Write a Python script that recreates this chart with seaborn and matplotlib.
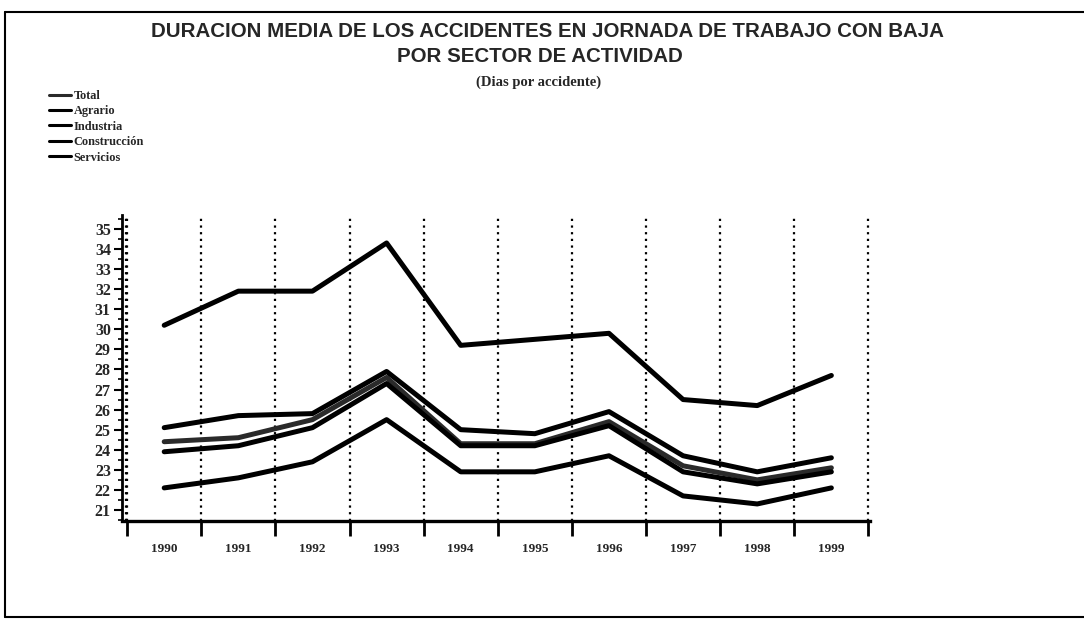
import pandas as pd
import matplotlib.pyplot as plt
import seaborn as sns
from matplotlib.lines import Line2D

years = ['1990', '1991', '1992', '1993', '1994', '1995', '1996', '1997', '1998', '1999']
sectors = ['Total', 'Agrario', 'Industria', 'Construcción', 'Servicios']

total = [24.4, 24.6, 25.5, 27.6, 24.3, 24.3, 25.4, 23.2, 22.5, 23.1]
agrario = [30.2, 31.9, 31.9, 34.3, 29.2, 29.5, 29.8, 26.5, 26.2, 27.7]
industria = [23.9, 24.2, 25.1, 27.3, 24.2, 24.2, 25.2, 22.9, 22.3, 22.9]
construccion = [25.1, 25.7, 25.8, 27.9, 25.0, 24.8, 25.9, 23.7, 22.9, 23.6]
servicios = [22.1, 22.6, 23.4, 25.5, 22.9, 22.9, 23.7, 21.7, 21.3, 22.1]

y_ticks = list(range(21, 36))

if __name__ == '__main__':
    df = pd.DataFrame({'Total': total, 'Agrario': agrario, 'Industria': industria,
                       'Construcción': construccion, 'Servicios': servicios})
    df['pos'] = range(len(years))
    df = df.melt(id_vars='pos', var_name='sector', value_name='dias')

    sns.set_style('white')
    fig = plt.figure(figsize=(10.84, 6.21), dpi=100)
    ax = fig.add_axes([0.1125, 0.161, 0.69, 0.493])

    palette = {'Total': '#2a2a2a', 'Agrario': 'black', 'Industria': 'black',
               'Construcción': 'black', 'Servicios': 'black'}
    sns.lineplot(data=df, x='pos', y='dias', hue='sector', hue_order=sectors,
                 palette=palette, linewidth=3.6, legend=False, ax=ax)

    # dotted separators between years
    for b in range(len(years) + 1):
        ax.axvline(b - 0.5, color='black', linestyle=(0, (1, 2)), linewidth=1.6, zorder=0)
    ax.axvline(-0.52, color='black', linestyle=(0, (1, 2)), linewidth=1.6, zorder=0)

    ax.set_xlim(-0.57, 9.52)
    ax.set_ylim(20.45, 35.7)
    ax.set_xticks(range(len(years)))
    ax.set_xticklabels(years, fontfamily='Liberation Serif', fontweight='bold', fontsize=9.5)
    ax.set_xticks([b - 0.5 for b in range(len(years) + 1)], minor=True)
    ax.tick_params(axis='x', which='major', bottom=True, length=0, pad=16)
    ax.tick_params(axis='x', which='minor', bottom=True, length=11, width=2,
                   direction='out', color='black')

    ax.set_yticks(y_ticks)
    ax.set_yticklabels([str(t) for t in y_ticks], fontfamily='Liberation Serif',
                       fontweight='bold', fontsize=11.5)
    ax.set_yticks([t + 0.5 for t in range(20, 36)], minor=True)
    ax.tick_params(axis='y', which='major', left=True, length=6, width=1.5,
                   direction='out', color='black', pad=2)
    ax.tick_params(axis='y', which='minor', left=True, length=3, width=1.2,
                   direction='out', color='black')

    ax.set_xlabel('')
    ax.set_ylabel('')
    sns.despine(ax=ax, top=True, right=True)
    ax.spines['left'].set_linewidth(2)
    ax.spines['bottom'].set_linewidth(2.4)
    ax.spines['left'].set_color('black')
    ax.spines['bottom'].set_color('black')

    # titles
    fig.text(0.505, 0.950, 'DURACION MEDIA DE LOS ACCIDENTES EN JORNADA DE TRABAJO CON BAJA',
             ha='center', va='center', fontsize=14.8, fontweight='bold', family='Liberation Sans')
    fig.text(0.498, 0.909, 'POR SECTOR DE ACTIVIDAD',
             ha='center', va='center', fontsize=14.8, fontweight='bold', family='Liberation Sans')
    fig.text(0.497, 0.868, '(Dias por accidente)',
             ha='center', va='center', fontsize=10.5, fontweight='bold', family='Liberation Serif')

    # legend
    handles = [Line2D([], [], color=palette[s], linewidth=2.2) for s in sectors]
    fig.legend(handles, sectors, loc='upper left', bbox_to_anchor=(0.035, 0.873),
               frameon=False, handlelength=1.8, handletextpad=0.2, labelspacing=0.28,
               prop={'family': 'Liberation Serif', 'weight': 'bold', 'size': 8.8})

    # outer frame (left, top, bottom edges of the scanned page box)
    for xs, ys in [([0.005, 0.005], [0.007, 0.98]), ([0.005, 1.0], [0.98, 0.98]),
                   ([0.005, 1.0], [0.007, 0.007])]:
        fig.add_artist(Line2D(xs, ys, transform=fig.transFigure, color='black', linewidth=1.5))

    fig.savefig('out.png', dpi=100, facecolor='white')
